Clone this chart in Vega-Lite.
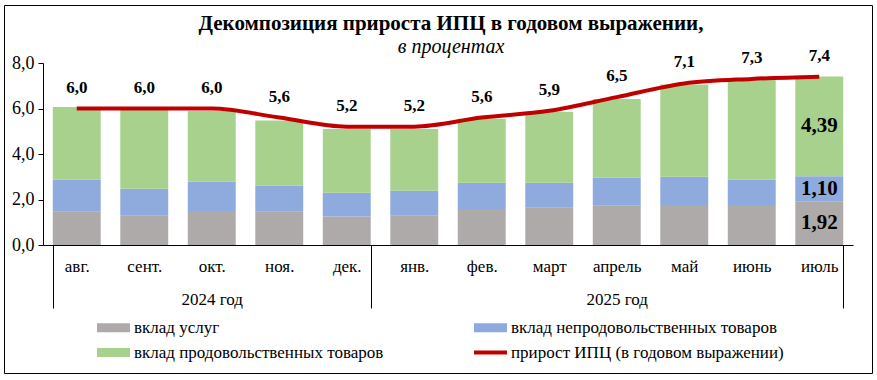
{
  "$schema": "https://vega.github.io/schema/vega-lite/v6.json",
  "width": 868,
  "height": 368,
  "autosize": {"type": "none"},
  "padding": {"left": 4, "top": 5, "right": 5, "bottom": 7},
  "background": "white",
  "config": {
    "locale": {"number": {"decimal": ",", "thousands": " ", "grouping": [3], "currency": ["", ""]}},
    "font": "Liberation Serif",
    "view": {"stroke": "black", "strokeWidth": 1}
  },
  "title": {
    "text": "Декомпозиция прироста ИПЦ в годовом выражении,",
    "subtitle": "в процентах",
    "anchor": "middle",
    "offset": -52,
    "dx": 13,
    "font": "Liberation Serif",
    "fontSize": 21,
    "fontWeight": "bold",
    "color": "black",
    "subtitleFont": "Liberation Serif",
    "subtitleFontSize": 20,
    "subtitleFontStyle": "italic",
    "subtitleColor": "black",
    "subtitlePadding": 3
  },
  "datasets": {
    "parts": [
      {"month": "авг.", "comp": "вклад услуг", "k": 1, "value": 1.46},
      {"month": "сент.", "comp": "вклад услуг", "k": 1, "value": 1.29},
      {"month": "окт.", "comp": "вклад услуг", "k": 1, "value": 1.49},
      {"month": "ноя.", "comp": "вклад услуг", "k": 1, "value": 1.46},
      {"month": "дек.", "comp": "вклад услуг", "k": 1, "value": 1.25},
      {"month": "янв.", "comp": "вклад услуг", "k": 1, "value": 1.29},
      {"month": "фев.", "comp": "вклад услуг", "k": 1, "value": 1.58},
      {"month": "март", "comp": "вклад услуг", "k": 1, "value": 1.64},
      {"month": "апрель", "comp": "вклад услуг", "k": 1, "value": 1.73},
      {"month": "май", "comp": "вклад услуг", "k": 1, "value": 1.76},
      {"month": "июнь", "comp": "вклад услуг", "k": 1, "value": 1.76},
      {"month": "июль", "comp": "вклад услуг", "k": 1, "value": 1.92},
      {"month": "авг.", "comp": "вклад непродовольственных товаров", "k": 2, "value": 1.41},
      {"month": "сент.", "comp": "вклад непродовольственных товаров", "k": 2, "value": 1.18},
      {"month": "окт.", "comp": "вклад непродовольственных товаров", "k": 2, "value": 1.29},
      {"month": "ноя.", "comp": "вклад непродовольственных товаров", "k": 2, "value": 1.15},
      {"month": "дек.", "comp": "вклад непродовольственных товаров", "k": 2, "value": 1.05},
      {"month": "янв.", "comp": "вклад непродовольственных товаров", "k": 2, "value": 1.10},
      {"month": "фев.", "comp": "вклад непродовольственных товаров", "k": 2, "value": 1.16},
      {"month": "март", "comp": "вклад непродовольственных товаров", "k": 2, "value": 1.10},
      {"month": "апрель", "comp": "вклад непродовольственных товаров", "k": 2, "value": 1.23},
      {"month": "май", "comp": "вклад непродовольственных товаров", "k": 2, "value": 1.24},
      {"month": "июнь", "comp": "вклад непродовольственных товаров", "k": 2, "value": 1.11},
      {"month": "июль", "comp": "вклад непродовольственных товаров", "k": 2, "value": 1.10},
      {"month": "авг.", "comp": "вклад продовольственных товаров", "k": 3, "value": 3.20},
      {"month": "сент.", "comp": "вклад продовольственных товаров", "k": 3, "value": 3.50},
      {"month": "окт.", "comp": "вклад продовольственных товаров", "k": 3, "value": 3.11},
      {"month": "ноя.", "comp": "вклад продовольственных товаров", "k": 3, "value": 2.86},
      {"month": "дек.", "comp": "вклад продовольственных товаров", "k": 3, "value": 2.80},
      {"month": "янв.", "comp": "вклад продовольственных товаров", "k": 3, "value": 2.71},
      {"month": "фев.", "comp": "вклад продовольственных товаров", "k": 3, "value": 2.81},
      {"month": "март", "comp": "вклад продовольственных товаров", "k": 3, "value": 3.12},
      {"month": "апрель", "comp": "вклад продовольственных товаров", "k": 3, "value": 3.46},
      {"month": "май", "comp": "вклад продовольственных товаров", "k": 3, "value": 4.06},
      {"month": "июнь", "comp": "вклад продовольственных товаров", "k": 3, "value": 4.38},
      {"month": "июль", "comp": "вклад продовольственных товаров", "k": 3, "value": 4.39}
    ],
    "cpi": [
      {"month": "авг.", "cpi": 6.0},
      {"month": "сент.", "cpi": 6.0},
      {"month": "окт.", "cpi": 6.0},
      {"month": "ноя.", "cpi": 5.6},
      {"month": "дек.", "cpi": 5.2},
      {"month": "янв.", "cpi": 5.2},
      {"month": "фев.", "cpi": 5.6},
      {"month": "март", "cpi": 5.9},
      {"month": "апрель", "cpi": 6.5},
      {"month": "май", "cpi": 7.1},
      {"month": "июнь", "cpi": 7.3},
      {"month": "июль", "cpi": 7.4}
    ]
  },
  "layer": [
    {
      "data": {"name": "parts"},
      "mark": {"type": "bar"},
      "encoding": {
        "x": {
          "field": "month",
          "type": "nominal",
          "sort": ["авг.", "сент.", "окт.", "ноя.", "дек.", "янв.", "фев.", "март", "апрель", "май", "июнь", "июль"],
          "scale": {"range": [39, 849], "paddingInner": 0.29, "paddingOuter": 0.145},
          "axis": {
            "title": null,
            "orient": "bottom",
            "offset": -128,
            "labelAngle": 0,
            "tickBand": "extent",
            "tickSize": 63,
            "tickWidth": 1,
            "tickColor": {"condition": {"test": "datum.value == 'дек.' || datum.value == 'июль' || datum.index < 0", "value": "black"}, "value": "transparent"},
            "domainColor": "black",
            "domainWidth": 1,
            "labelPadding": -50,
            "labelFont": "Liberation Serif",
            "labelFontSize": 17,
            "labelColor": "black",
            "labelLineHeight": 33,
            "labelExpr": "datum.label == 'окт.' ? ['окт.', '2024 год'] : datum.label == 'апрель' ? ['апрель', '2025 год'] : datum.label"
          }
        },
        "y": {
          "field": "value",
          "type": "quantitative",
          "stack": "zero",
          "scale": {"domain": [0, 8], "range": [240, 58], "nice": false},
          "axis": {
            "title": null,
            "orient": "left",
            "offset": -39,
            "values": [0, 2, 4, 6, 8],
            "format": ".1f",
            "grid": false,
            "tickSize": 5,
            "tickColor": "black",
            "domainColor": "black",
            "labelFont": "Liberation Serif",
            "labelFontSize": 18,
            "labelColor": "black",
            "labelPadding": 4
          }
        },
        "color": {
          "field": "comp",
          "type": "nominal",
          "scale": {
            "domain": ["вклад услуг", "вклад продовольственных товаров", "вклад непродовольственных товаров", "прирост ИПЦ (в годовом выражении)"],
            "range": ["#AEAAAA", "#A9D18E", "#8FAADC", "#C00000"]
          },
          "legend": {
            "title": null,
            "orient": "none",
            "legendX": 93,
            "legendY": 306,
            "columns": 2,
            "padding": 0,
            "symbolSize": 1089,
            "symbolType": "M-1,-0.27L1,-0.27L1,0.27L-1,0.27Z",
            "symbolStrokeWidth": 0,
            "labelFont": "Liberation Serif",
            "labelFontSize": 17,
            "labelColor": "black",
            "labelLimit": 400,
            "labelOffset": 4,
            "columnPadding": 90,
            "rowPadding": -1,
            "encode": {
              "symbols": {
                "update": {
                  "shape": {"signal": "datum.value === 'прирост ИПЦ (в годовом выражении)' ? 'M-1,-0.12L1,-0.12L1,0.12L-1,0.12Z' : 'M-1,-0.27L1,-0.27L1,0.27L-1,0.27Z'"},
                  "fill": {"scale": "color", "field": "value"},
                  "stroke": {"value": "transparent"},
                  "opacity": {"value": 1},
                  "fillOpacity": {"value": 1}
                }
              }
            }
          }
        },
        "order": {"field": "k", "type": "quantitative"}
      }
    },
    {
      "data": {"name": "cpi"},
      "mark": {"type": "line", "strokeWidth": 4, "interpolate": "monotone"},
      "encoding": {
        "x": {"field": "month", "type": "nominal", "sort": ["авг.", "сент.", "окт.", "ноя.", "дек.", "янв.", "фев.", "март", "апрель", "май", "июнь", "июль"]},
        "y": {"field": "cpi", "type": "quantitative", "axis": {"title": null}},
        "color": {"datum": "прирост ИПЦ (в годовом выражении)"}
      }
    },
    {
      "data": {"name": "cpi"},
      "mark": {"type": "text", "dy": -21, "font": "Liberation Serif", "fontSize": 17, "fontWeight": "bold", "color": "black"},
      "encoding": {
        "x": {"field": "month", "type": "nominal", "sort": ["авг.", "сент.", "окт.", "ноя.", "дек.", "янв.", "фев.", "март", "апрель", "май", "июнь", "июль"]},
        "y": {"field": "cpi", "type": "quantitative", "axis": {"title": null}},
        "text": {"field": "cpi", "type": "quantitative", "format": ".1f"}
      }
    },
    {
      "data": {"name": "parts"},
      "transform": [{"filter": "datum.month == 'июль'"}],
      "mark": {"type": "text", "font": "Liberation Serif", "fontSize": 21, "fontWeight": "bold", "color": "black", "baseline": "middle"},
      "encoding": {
        "x": {"field": "month", "type": "nominal", "sort": ["авг.", "сент.", "окт.", "ноя.", "дек.", "янв.", "фев.", "март", "апрель", "май", "июнь", "июль"]},
        "y": {"field": "value", "type": "quantitative", "stack": "zero", "bandPosition": 0.5, "axis": {"title": null}},
        "order": {"field": "k", "type": "quantitative"},
        "text": {"field": "value", "type": "quantitative", "format": ".2f"}
      }
    }
  ]
}
